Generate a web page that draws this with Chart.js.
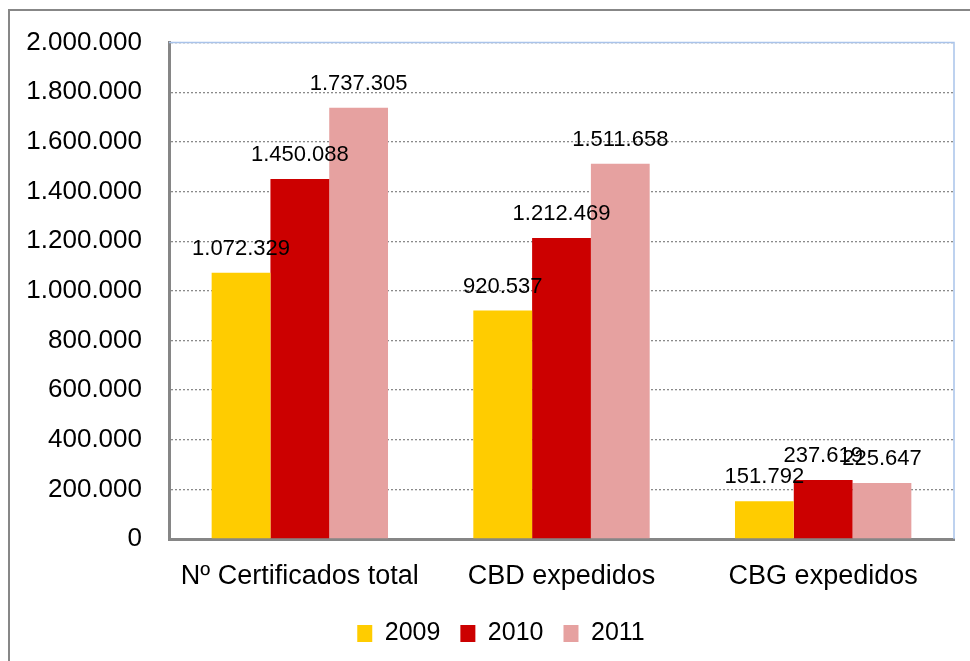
<!DOCTYPE html>
<html lang="es">
<head>
  <meta charset="UTF-8">
  <title>Certificados expedidos 2009-2011</title>
  <script src="https://cdn.jsdelivr.net/npm/chart.js"></script>
  <style>
    html, body {
      margin: 0;
      padding: 0;
      background: #ffffff;
      overflow: hidden;
    }
    .frame {
      position: absolute;
      left: 8px;
      top: 9px;
      width: 1100px;
      height: 800px;
      border: 2px solid #878787;
    }
    .wrap {
      position: absolute;
      left: 0;
      top: 0;
      width: 970px;
      height: 661px;
    }
  </style>
</head>
<body>
  <div class="frame"></div>
  <div class="wrap">
    <canvas id="chart" width="970" height="661"></canvas>
  </div>

  <script>
    // data
    const categories = ['Nº Certificados total', 'CBD expedidos', 'CBG expedidos'];
    const years = ['2009', '2010', '2011'];
    const values2009 = [1072329, 920537, 151792];
    const values2010 = [1450088, 1212469, 237619];
    const values2011 = [1737305, 1511658, 225647];
    const yTicks = [0, 200000, 400000, 600000, 800000, 1000000, 1200000, 1400000, 1600000, 1800000, 2000000];

    const colors = ['#FFCC00', '#CC0000', '#E6A1A0'];
    const fontFamily = "'Liberation Sans', Arial, sans-serif";

    // 1234567 -> 1.234.567
    function fmt(n) {
      return String(n).replace(/\B(?=(\d{3})+(?!\d))/g, '.');
    }

    // value labels above the bars
    const barLabels = {
      id: 'barLabels',
      afterDatasetsDraw(chart) {
        const ctx = chart.ctx;
        ctx.save();
        ctx.font = '22px ' + fontFamily;
        ctx.fillStyle = '#000';
        ctx.textAlign = 'center';
        ctx.textBaseline = 'middle';
        chart.data.datasets.forEach((ds, i) => {
          chart.getDatasetMeta(i).data.forEach((bar, j) => {
            ctx.fillText(fmt(ds.data[j]), bar.x, bar.y - 24);
          });
        });
        ctx.restore();
      }
    };

    // light blue top/right edge of the plot area
    const plotEdge = {
      id: 'plotEdge',
      beforeDatasetsDraw(chart) {
        const a = chart.chartArea;
        const ctx = chart.ctx;
        ctx.save();
        ctx.strokeStyle = '#A9C3EA';
        ctx.lineWidth = 1.5;
        ctx.beginPath();
        ctx.moveTo(a.left, a.top);
        ctx.lineTo(a.right, a.top);
        ctx.lineTo(a.right, a.bottom);
        ctx.stroke();
        ctx.restore();
      }
    };

    // legend in the original sits a little right of centre
    const legendShift = {
      id: 'legendShift',
      afterLayout(chart) {
        chart.legend.left += 24;
        chart.legend.right += 24;
      }
    };

    const ctx = document.getElementById('chart').getContext('2d');
    const valueSets = [values2009, values2010, values2011];

    new Chart(ctx, {
      type: 'bar',
      data: {
        labels: categories,
        datasets: years.map((y, i) => ({
          label: y,
          data: valueSets[i],
          backgroundColor: colors[i],
          borderWidth: 0,
          categoryPercentage: 0.674,
          barPercentage: 1.0
        }))
      },
      options: {
        responsive: false,
        animation: false,
        layout: {
          padding: { top: 40, right: 16, bottom: 5, left: 0 }
        },
        plugins: {
          legend: {
            position: 'bottom',
            labels: {
              color: '#000',
              font: { family: fontFamily, size: 25 },
              boxWidth: 15,
              boxHeight: 17,
              padding: 20
            }
          },
          tooltip: { enabled: false }
        },
        scales: {
          x: {
            grid: { display: false, drawTicks: false },
            border: { display: true, color: '#868686', width: 3 },
            ticks: {
              color: '#000',
              font: { family: fontFamily, size: 27 },
              padding: 21
            },
            afterFit(scale) { scale.height = 62; }
          },
          y: {
            min: 0,
            max: 2000000,
            afterBuildTicks(scale) {
              scale.ticks = yTicks.map(v => ({ value: v }));
            },
            grid: {
              color: '#8a8a8a',
              lineWidth: 1.3,
              drawTicks: false
            },
            border: { display: true, color: '#868686', width: 3, dash: [2, 2] },
            ticks: {
              color: '#000',
              font: { family: fontFamily, size: 26 },
              padding: 27,
              callback: v => fmt(v)
            },
            afterFit(scale) { scale.width = 169; }
          }
        }
      },
      plugins: [plotEdge, barLabels, legendShift]
    });
  </script>
</body>
</html>
